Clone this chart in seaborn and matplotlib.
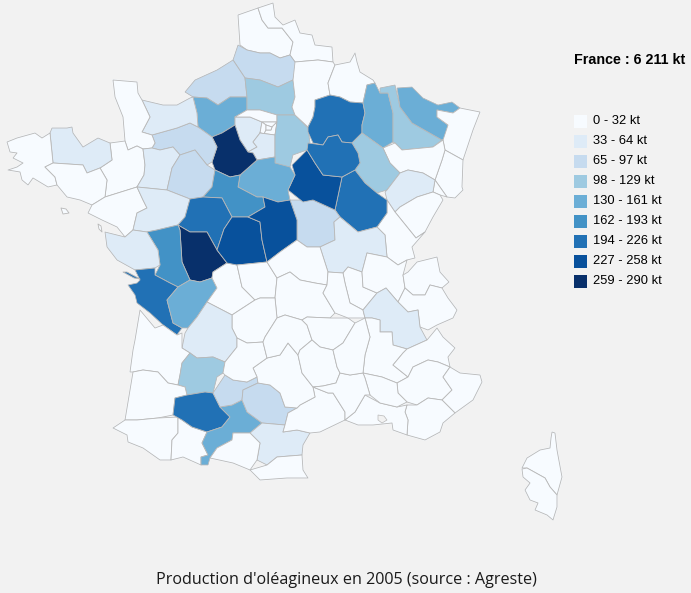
import matplotlib
matplotlib.use("Agg")
import matplotlib.pyplot as plt
import numpy as np
import pandas as pd
import seaborn as sns

# Estimated production (kt) per department, read from the colour classes
DEPT_CODES = ["62","59","80","76","27","60","78","95","93","92","94","75","91","77","02","08","51","55","54","57","67","68","90","88",
              "52","70","25","39","21","58","71","89","10","45","28","61","14","50","35","22","29","56","44","53",
              "72","49","41","37","86","79","85","17","16","87","36","18","23","03","63","19","24","33","47","40",
              "64","65","32","31","82","81","11","09","66","34","12","46","15","43","48","69","42","01","74","73",
              "38","26","05","04","06","83","13","84","30","07","2B","2A"]
DEPT_KT = [20,25,80,85,145,115,50,10,1,1,1,1,55,120,30,28,210,150,110,150,25,20,1,28,
           115,50,15,18,205,80,55,240,215,145,280,85,50,5,20,55,3,12,25,50,
           85,55,175,210,285,175,45,210,150,15,240,245,8,25,20,2,45,8,110,5,
           5,8,215,150,85,80,55,25,1,5,8,10,1,2,1,10,10,25,2,2,
           45,20,1,2,0,2,10,8,15,2,0,0]
ISLAND_CODES = ["Re", "Belle-Ile", "Noirmoutier"]
ISLAND_KT = [210, 1, 1]

CLASS_EDGES = [0, 33, 65, 98, 130, 162, 194, 227, 259, 291]
CLASS_LABELS = ["0 - 32 kt","33 - 64 kt","65 - 97 kt","98 - 129 kt","130 - 161 kt",
                "162 - 193 kt","194 - 226 kt","227 - 258 kt","259 - 290 kt"]
CLASS_COLORS = ["#f7fbff","#deebf7","#c6dbef","#9ecae1","#6baed6","#4292c6","#2171b5","#08519c","#08306b"]
TOTAL_LABEL = "France : 6 211 kt"
CAPTION = "Production d'oléagineux en 2005 (source : Agreste)"

# Department outlines
OUTLINES = {
"62":[(238,15),(258,8),(262,20),(268,28),(282,28),(293,42),(290,55),(280,58),(270,53),(260,53),(247,50),(240,45)],
"59":[(258,8),(273,3),(275,17),(283,25),(295,20),(300,33),(312,35),(315,45),(332,47),(333,62),(318,60),(295,62),(290,55),(293,42),(282,28),(268,28),(262,20)],
"80":[(238,45),(247,50),(260,53),(270,53),(280,58),(290,55),(295,62),(297,63),(293,80),(278,87),(260,80),(245,78),(233,60)],
"76":[(233,60),(217,70),(195,80),(185,92),(193,97),(207,98),(218,105),(230,97),(243,97),(247,97),(245,78)],
"27":[(193,97),(197,113),(198,127),(212,137),(222,133),(235,125),(235,117),(247,110),(247,97),(230,97),(218,105),(207,98)],
"60":[(245,78),(260,80),(278,87),(293,80),(295,97),(292,107),(295,115),(277,115),(260,110),(247,110),(247,97)],
"78":[(235,117),(250,117),(262,122),(260,133),(253,142),(257,147),(248,152),(240,140),(235,125)],
"95":[(247,110),(260,110),(277,115),(277,122),(262,122),(250,117),(235,117)],
"93":[(262,122),(277,122),(272,127),(266,125)],
"92":[(262,122),(266,125),(266,130),(264,134),(260,133)],
"94":[(266,130),(271,130),(272,127),(277,122),(275,135),(260,133),(264,134)],
"75":[(266,125),(272,127),(271,130),(266,130)],
"91":[(260,133),(275,135),(275,157),(257,160),(253,153),(248,152),(257,147),(253,142)],
"77":[(277,115),(295,115),(308,128),(310,143),(307,150),(293,155),(290,167),(280,168),(275,163),(275,135),(277,122)],
"02":[(295,62),(318,60),(333,62),(335,65),(328,83),(330,95),(315,100),(315,107),(313,117),(308,127),(295,115),(292,107),(295,97),(293,80)],
"08":[(335,65),(350,62),(355,53),(357,62),(360,72),(373,80),(375,83),(367,85),(363,103),(350,102),(340,97),(330,95),(328,83)],
"51":[(315,100),(330,95),(340,97),(350,102),(363,103),(365,113),(362,125),(362,133),(352,143),(342,142),(338,135),(328,137),(323,145),(313,143),(308,132),(308,127),(313,117),(315,107)],
"55":[(367,85),(375,83),(380,93),(388,93),(393,113),(393,142),(383,148),(362,133),(362,125),(365,113),(363,103)],
"54":[(380,88),(395,85),(400,107),(412,123),(442,140),(433,147),(402,150),(395,143),(393,142),(393,113),(388,93),(380,93)],
"57":[(397,88),(412,87),(423,98),(438,105),(452,102),(460,108),(453,113),(437,110),(437,117),(448,125),(445,138),(442,140),(412,123),(400,107)],
"67":[(460,108),(480,112),(473,130),(463,160),(445,150),(443,140),(448,125),(437,117),(437,110),(453,113)],
"68":[(445,150),(463,160),(462,187),(463,190),(455,198),(447,197),(435,180),(442,160)],
"90":[(435,180),(447,197),(440,195),(433,192)],
"88":[(383,148),(395,143),(402,150),(433,147),(443,140),(445,150),(442,160),(435,180),(423,173),(408,170),(400,173),(390,163)],
"52":[(362,133),(383,148),(390,163),(400,173),(387,190),(377,193),(365,183),(355,170),(360,163),(358,153),(352,143)],
"70":[(400,173),(408,170),(423,173),(435,180),(433,192),(417,197),(400,207),(395,212),(387,200),(385,192),(387,190)],
"25":[(395,212),(400,207),(417,197),(433,192),(440,195),(443,200),(433,217),(425,232),(416,238)],
"39":[(387,200),(395,212),(416,238),(425,232),(412,247),(415,258),(407,260),(398,265),(387,257),(385,235),(377,227),(387,213)],
"21":[(335,210),(342,177),(355,170),(365,183),(377,193),(387,200),(387,213),(377,227),(358,232),(340,217)],
"58":[(290,200),(313,200),(335,210),(340,217),(334,222),(335,240),(320,247),(307,247),(297,240),(297,220)],
"71":[(334,222),(340,217),(358,232),(377,227),(385,235),(387,257),(367,253),(362,272),(348,267),(343,273),(328,272),(320,247),(335,240)],
"89":[(292,165),(307,150),(315,163),(323,175),(342,177),(335,210),(313,200),(303,202),(288,190),(295,175)],
"10":[(308,143),(323,145),(328,137),(338,135),(342,142),(352,143),(358,153),(360,163),(355,170),(342,177),(323,175),(315,163),(307,150)],
"45":[(240,175),(257,160),(275,157),(275,163),(290,167),(295,175),(288,190),(290,200),(278,202),(263,197),(257,197),(238,187)],
"28":[(235,125),(240,140),(248,152),(253,153),(257,160),(240,175),(230,177),(215,170),(212,162),(217,147),(212,137),(222,133)],
"61":[(152,135),(177,128),(190,123),(198,127),(212,137),(217,147),(212,162),(207,165),(195,150),(180,155),(173,147),(160,150),(152,148),(155,143)],
"14":[(142,100),(163,105),(177,105),(190,98),(193,97),(197,113),(198,127),(190,123),(177,128),(152,135),(142,132),(150,117)],
"50":[(113,80),(137,82),(138,93),(142,100),(150,117),(142,132),(152,135),(155,143),(152,148),(143,149),(137,146),(128,150),(125,141),(123,117),(115,97)],
"35":[(110,143),(125,141),(128,150),(137,146),(143,149),(145,165),(144,175),(137,187),(105,197),(107,180),(100,168),(112,160)],
"22":[(50,133),(52,128),(67,128),(72,127),(73,133),(83,147),(98,138),(110,143),(112,160),(100,168),(87,173),(83,165),(53,163)],
"29":[(7,142),(17,138),(35,133),(42,138),(50,133),(53,163),(45,167),(55,177),(57,185),(48,187),(33,178),(28,185),(22,180),(20,172),(8,170),(17,167),(23,163),(13,158),(17,153),(10,152)],
"56":[(45,167),(53,163),(83,165),(87,173),(100,168),(107,180),(105,197),(92,205),(80,200),(67,197),(57,185),(55,177)],
"44":[(105,197),(137,187),(143,200),(147,208),(137,213),(133,230),(125,237),(117,227),(102,220),(88,213),(92,205)],
"53":[(143,149),(152,148),(160,150),(173,147),(180,155),(172,168),(167,190),(137,187),(144,175),(145,165)],
"72":[(180,155),(195,150),(207,165),(215,170),(212,187),(203,197),(190,199),(167,190),(172,168)],
"49":[(137,187),(167,190),(190,199),(185,217),(178,225),(157,230),(147,232),(133,230),(137,213),(147,208),(143,200)],
"41":[(215,170),(230,177),(240,175),(238,187),(257,197),(263,197),(265,207),(248,217),(232,217),(222,198),(203,197),(212,187)],
"37":[(190,199),(203,197),(222,198),(232,217),(224,229),(217,250),(207,232),(190,232),(178,225),(185,217)],
"86":[(178,225),(190,232),(207,232),(217,250),(227,263),(213,272),(212,278),(200,282),(190,280),(182,262),(180,230)],
"79":[(147,232),(157,230),(178,225),(180,230),(182,262),(190,280),(178,287),(170,283),(155,275),(160,265),(158,250)],
"85":[(105,232),(125,237),(133,230),(147,232),(158,250),(160,265),(155,268),(135,270),(117,260),(107,247)],
"17":[(135,270),(155,268),(155,275),(170,283),(178,287),(167,300),(173,323),(182,328),(177,335),(163,325),(150,313),(137,303),(135,295),(128,285),(137,283),(140,280)],
"16":[(178,287),(190,280),(200,282),(212,278),(217,288),(207,302),(197,317),(188,328),(182,328),(173,323),(167,300)],
"87":[(213,272),(227,263),(237,265),(242,287),(255,300),(232,315),(207,302),(217,288),(212,278)],
"36":[(232,217),(248,217),(260,222),(262,240),(267,262),(237,265),(227,263),(217,250),(224,229)],
"18":[(263,197),(278,202),(290,200),(297,220),(297,240),(280,252),(267,262),(262,240),(260,222),(248,217),(265,207)],
"23":[(237,265),(267,262),(277,278),(275,298),(260,298),(255,300),(242,287)],
"03":[(267,262),(280,252),(297,240),(307,247),(320,247),(328,272),(327,285),(315,283),(300,280),(290,272),(277,278)],
"63":[(277,278),(290,272),(300,280),(315,283),(327,285),(323,293),(335,313),(330,318),(307,317),(302,320),(285,315),(277,318),(275,298)],
"19":[(232,315),(255,300),(260,298),(275,298),(277,318),(265,337),(263,342),(247,343),(237,338),(232,328)],
"24":[(207,302),(232,315),(232,328),(237,338),(237,347),(225,362),(213,357),(197,358),(190,353),(182,348),(185,333),(188,328),(197,317)],
"33":[(140,310),(155,328),(163,325),(177,335),(182,333),(182,348),(190,353),(182,363),(180,375),(178,385),(168,383),(158,372),(143,370),(133,372),(130,372),(133,350),(135,340)],
"47":[(190,353),(197,358),(213,357),(225,362),(223,373),(217,377),(213,393),(205,392),(187,395),(185,387),(178,385),(180,375),(182,363)],
"40":[(133,372),(143,370),(158,372),(168,383),(178,385),(185,387),(187,395),(175,398),(173,415),(158,418),(137,420),(125,420),(130,390)],
"64":[(113,428),(125,420),(137,420),(158,418),(178,417),(178,433),(172,440),(171,460),(160,460),(143,448),(128,442),(127,435)],
"65":[(178,417),(182,420),(192,427),(207,432),(202,443),(208,455),(201,457),(201,465),(183,457),(171,460),(172,440),(178,433)],
"32":[(175,398),(187,395),(205,392),(213,393),(220,407),(230,417),(222,427),(207,432),(192,427),(182,420),(173,415)],
"31":[(220,407),(232,405),(242,400),(247,412),(262,423),(250,433),(233,433),(232,440),(217,448),(210,458),(208,465),(201,465),(201,457),(208,455),(202,443),(207,432),(222,427),(230,417)],
"82":[(213,393),(225,375),(233,380),(247,382),(257,377),(258,383),(243,390),(242,400),(232,405),(220,407)],
"81":[(243,390),(258,383),(270,385),(280,393),(285,407),(297,408),(288,413),(285,425),(262,423),(247,412),(242,400)],
"11":[(250,433),(262,423),(285,425),(283,432),(297,430),(310,433),(303,445),(302,455),(277,457),(267,465),(257,460),(260,443)],
"09":[(210,458),(217,448),(232,440),(233,433),(250,433),(260,443),(257,460),(250,470),(233,463)],
"66":[(250,470),(267,465),(277,457),(302,455),(303,470),(308,478),(287,478),(260,480)],
"34":[(288,413),(297,408),(300,405),(315,397),(313,387),(328,393),(333,393),(345,412),(345,420),(320,432),(310,433),(297,430),(283,432),(285,425)],
"12":[(253,368),(267,358),(280,355),(288,343),(298,355),(302,373),(313,387),(315,397),(300,405),(297,408),(285,407),(280,393),(270,385),(258,383),(257,377)],
"46":[(225,362),(237,347),(237,338),(247,343),(263,342),(267,358),(253,368),(257,377),(247,382),(233,380),(225,375),(223,373)],
"15":[(263,342),(265,337),(277,318),(285,315),(302,320),(307,325),(312,340),(300,350),(298,355),(288,343),(280,355),(267,358)],
"43":[(302,320),(307,317),(330,318),(348,318),(355,323),(343,343),(333,350),(320,347),(312,340),(307,325)],
"48":[(300,350),(312,340),(320,347),(333,350),(337,367),(340,373),(336,383),(323,386),(313,387),(302,373),(298,355)],
"69":[(343,273),(348,267),(362,272),(363,287),(377,293),(363,310),(350,303),(345,283)],
"42":[(328,272),(343,273),(345,283),(350,303),(363,310),(365,318),(348,318),(335,313),(323,293),(327,285)],
"01":[(362,272),(367,253),(387,257),(398,265),(407,260),(403,275),(405,288),(398,302),(386,288),(377,293),(363,287)],
"74":[(417,262),(437,257),(440,272),(449,282),(442,288),(430,285),(425,295),(413,295),(405,288),(403,275),(408,272)],
"73":[(405,288),(413,295),(425,295),(430,285),(442,288),(448,298),(457,310),(453,318),(437,325),(428,330),(420,327),(418,310),(408,312),(398,302)],
"38":[(365,318),(363,310),(377,293),(386,288),(398,302),(408,312),(418,310),(420,327),(427,340),(407,349),(393,345),(392,332),(380,332),(380,320),(372,318)],
"26":[(365,318),(372,318),(380,320),(380,332),(392,332),(393,345),(407,349),(403,353),(393,365),(408,377),(397,383),(382,377),(363,373),(365,355),(370,337)],
"05":[(407,349),(427,340),(437,328),(443,337),(455,348),(448,357),(450,367),(438,362),(428,360),(413,367),(408,377),(393,365),(403,353)],
"04":[(413,367),(428,360),(438,362),(450,367),(443,377),(452,390),(442,400),(428,398),(417,405),(407,402),(398,393),(397,383),(408,377)],
"06":[(450,367),(460,373),(480,375),(482,382),(473,400),(455,413),(442,400),(452,390),(443,377)],
"83":[(407,405),(417,405),(428,398),(442,400),(455,413),(443,423),(440,432),(425,440),(407,435),(408,420),(405,412)],
"13":[(365,395),(380,403),(397,407),(407,405),(405,412),(408,420),(407,435),(393,430),(392,423),(373,425),(358,425),(345,420),(355,412)],
"84":[(363,373),(382,377),(397,383),(398,393),(407,402),(397,407),(380,403),(370,395),(365,378)],
"30":[(340,373),(350,375),(363,373),(365,378),(370,395),(365,395),(355,412),(345,420),(345,412),(333,393),(328,393),(313,387),(323,386),(336,383)],
"07":[(333,350),(343,343),(355,323),(365,318),(370,337),(365,355),(363,373),(350,375),(340,373),(337,367)],
"2B":[(552,432),(555,433),(557,450),(562,477),(557,495),(550,487),(545,478),(527,468),(522,468),(527,458),(540,450),(550,448),(551,438)],
"2A":[(522,469),(527,468),(545,478),(550,487),(557,495),(557,507),(553,520),(547,515),(535,510),(538,503),(530,500),(525,490),(530,483),(523,477)],
"Re":[(123,272),(127,272),(140,279),(134,278)],
"Belle-Ile":[(61,208),(66,209),(69,213),(63,214)],
"Noirmoutier":[(98,224),(101,226),(102,232),(99,229)],
}
LAKE_OUTLINES = [[(378,415),(384,416),(387,420),(382,423),(378,420)]]

sns.set_theme(style="white", rc={"figure.facecolor": "#f2f2f2", "axes.facecolor": "#f2f2f2"})

fig = plt.figure(figsize=(6.91, 5.93), dpi=100)
ax = fig.add_axes([0, 0, 1, 1])
ax.set_xlim(0, 691)
ax.set_ylim(593, 0)
ax.set_axis_off()

codes = DEPT_CODES + ISLAND_CODES
values = DEPT_KT + ISLAND_KT
classes = np.digitize(values, CLASS_EDGES) - 1
# close hairline seams between the traced neighbours
for code in DEPT_CODES:
    xs, ys = zip(*OUTLINES[code])
    ax.fill(xs, ys, facecolor=CLASS_COLORS[0], edgecolor=CLASS_COLORS[0], linewidth=1.2)
for code, cls in zip(codes, classes):
    xs, ys = zip(*OUTLINES[code])
    ax.fill(xs, ys, facecolor=CLASS_COLORS[cls], edgecolor="#b8b8b8", linewidth=0.6, joinstyle="round")
for lake in LAKE_OUTLINES:
    xs, ys = zip(*lake)
    ax.fill(xs, ys, facecolor="#f2f2f2", edgecolor="#b8b8b8", linewidth=0.5)

legend_df = pd.DataFrame({"label": CLASS_LABELS, "row": np.arange(len(CLASS_LABELS))})
legend_df["x"] = 580.5
legend_df["y"] = 121.5 + 20 * legend_df["row"]
sns.scatterplot(data=legend_df, x="x", y="y", hue="label", palette=CLASS_COLORS, marker="s",
                s=90, linewidth=0, legend=False, ax=ax)
ax.set_xlim(0, 691)
ax.set_ylim(593, 0)
for _, r in legend_df.iterrows():
    ax.text(593, r["y"], r["label"], fontsize=9.3, family="Liberation Sans", color="black", va="center", ha="left")

ax.text(574.5, 60, TOTAL_LABEL, fontsize=10.3, family="Liberation Sans", fontweight="bold", color="black", va="center", ha="left")
ax.text(346.5, 580.5, CAPTION, fontsize=11.6, family="Open Sans", color="#1a1a1a", va="center", ha="center")

fig.savefig("out.png", dpi=100, facecolor=fig.get_facecolor())
